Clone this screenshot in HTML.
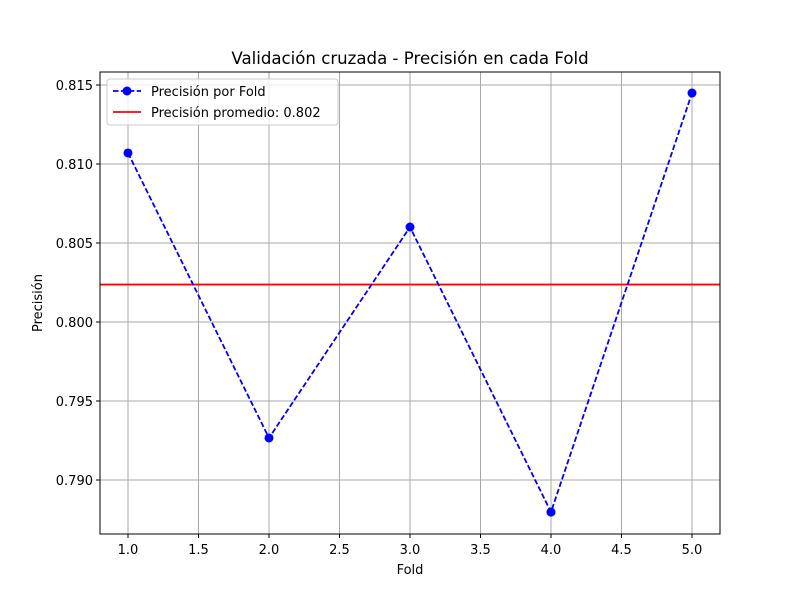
<!DOCTYPE html>
<html><head><meta charset="utf-8"><style>body{margin:0;background:#fff}svg{display:block;font-family:"DejaVu Sans","Liberation Sans",sans-serif}</style></head>
<body>
<svg id="chart" width="800" height="600">
<rect width="800" height="600" fill="#fff"/>
<g id="grid"></g><g id="ticks"></g><g id="marks"></g>
<rect x="100" y="72" width="620" height="462" fill="none" stroke="#000" stroke-width="1"/>
<text x="410" y="64" text-anchor="middle" font-size="16.6">Validación cruzada - Precisión en cada Fold</text>
<text x="410" y="574" text-anchor="middle" font-size="13">Fold</text>
<text x="42" y="303" text-anchor="middle" font-size="13" transform="rotate(-90 42 303)">Precisión</text>
<g>
<rect x="107" y="79" width="231" height="46" rx="3" fill="#fff" fill-opacity="0.8" stroke="#ccc"/>
<g><line x1="113" y1="91" x2="141" y2="91" stroke="#0000ff" stroke-width="1.8" stroke-dasharray="5.5,2.4"/><circle cx="127" cy="91" r="4.5" fill="#0000ff"/><text x="151" y="96" font-size="13">Precisión por Fold</text></g>
<g><line x1="113" y1="112" x2="141" y2="112" stroke="#ff0000" stroke-width="1.8"/><text x="151" y="117" font-size="13">Precisión promedio: 0.802</text></g>
</g>
</svg>
<script>
const folds=[1,2,3,4,5];
const precision=[0.8107,0.79266,0.80601,0.78797,0.81449];
const meanValue=0.80237;
const xTicks=["1.0","1.5","2.0","2.5","3.0","3.5","4.0","4.5","5.0"];
const yTicks=["0.790","0.795","0.800","0.805","0.810","0.815"];
const NS="http://www.w3.org/2000/svg";
const X=v=>128+(v-1)*141;
const Y=v=>480-(v-0.790)/0.005*79;
function mk(tag,attrs,parent){const e=document.createElementNS(NS,tag);for(const k in attrs)e.setAttribute(k,attrs[k]);parent.appendChild(e);return e;}
const grid=document.getElementById('grid'),ticks=document.getElementById('ticks'),marks=document.getElementById('marks');
xTicks.forEach(t=>{const x=X(parseFloat(t));
 const g=mk('line',{x1:x,x2:x,y1:72,y2:534,stroke:'#a8a8a8','stroke-width':1},grid);
 
 
 mk('line',{x1:x,x2:x,y1:534,y2:538,stroke:'#000'},ticks);
 const l=mk('text',{x:x,y:554,'text-anchor':'middle','font-size':13},ticks);l.textContent=t;
 
 });
yTicks.forEach(t=>{const y=Y(parseFloat(t));
 const g=mk('line',{x1:100,x2:720,y1:y,y2:y,stroke:'#a8a8a8','stroke-width':1},grid);
 
 
 mk('line',{x1:96,x2:100,y1:y,y2:y,stroke:'#000'},ticks);
 const l=mk('text',{x:93,y:y+5,'text-anchor':'end','font-size':13},ticks);l.textContent=t;
 
 });
const mean=mk('line',{x1:100,x2:720,y1:Y(meanValue),y2:Y(meanValue),stroke:'#ff0000','stroke-width':1.8},marks);


const pl=mk('polyline',{points:folds.map((f,i)=>X(f)+','+Y(precision[i])).join(' '),fill:'none',stroke:'#0000ff','stroke-width':1.8,'stroke-dasharray':'5.5,2.4'},marks);


folds.forEach((f,i)=>{const c=mk('circle',{cx:X(f),cy:Y(precision[i]),r:4.5,fill:'#0000ff'},marks);
 
 });
</script>
</body></html>
